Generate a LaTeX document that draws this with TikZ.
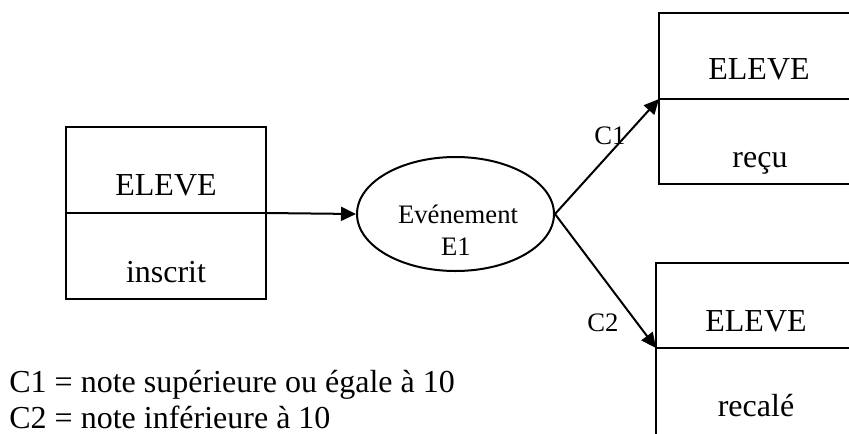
\documentclass[tikz,border=0pt]{standalone}
\usepackage{fontspec}
\setmainfont{Liberation Serif}
\usetikzlibrary{arrows.meta,shapes.geometric}
\tikzset{
  boxpart/.style={draw, rectangle, line width=1pt, minimum width=100pt, inner sep=0pt, outer sep=0pt},
  bigtxt/.style={anchor=base, inner sep=0pt, font=\fontsize{16}{18}\selectfont},
  smalltxt/.style={anchor=base, inner sep=0pt, font=\fontsize{13.33}{15}\selectfont},
  legend/.style={anchor=base west, inner sep=0pt, font=\fontsize{16}{18}\selectfont},
  flow/.style={line width=1pt, -{Triangle[length=7.5pt,width=7pt]}}
}
\begin{document}
\begin{tikzpicture}[x=0.5pt,y=-0.5pt]
\useasboundingbox (0,0) rectangle (849,433);
\clip (0,0) rectangle (849,433);
% left box
\node[boxpart, minimum height=43pt] (b1top) at (166,170) {};
\node[boxpart, minimum height=43pt] (b1bot) at (166,256) {};
\node[bigtxt] (t1a) at (166,195) {ELEVE};
\node[bigtxt] (t1b) at (166,282) {inscrit};
% top right box
\node[boxpart, minimum height=43pt] (b2top) at (759,56) {};
\node[boxpart, minimum height=42.5pt] (b2bot) at (759,141.5) {};
\node[bigtxt] (t2a) at (759,80) {ELEVE};
\node[bigtxt] (t2b) at (760,167) {reçu};
% bottom right box
\node[boxpart, minimum height=42.5pt] (b3top) at (756,305.5) {};
\node[boxpart, minimum height=44pt] (b3bot) at (756,392) {};
\node[bigtxt] (t3a) at (756,331) {ELEVE};
\node[bigtxt] (t3b) at (756,416) {recalé};
% event
\node[draw, ellipse, line width=1pt, minimum width=98.5pt, minimum height=57pt, inner sep=0pt] (ev) at (455.5,214) {};
\node[smalltxt] (ev1) at (458,223) {Evénement};
\node[smalltxt] (ev2) at (456,255) {E1};
% connectors
\draw[flow] (b1top.south east) -- (ev.west);
\draw[flow] (ev.east) -- (b2top.south west);
\draw[flow] (ev.east) -- (b3top.south west);
\node[smalltxt] (c1) at (610,144) {C1};
\node[smalltxt] (c2) at (603,331) {C2};
% legend
\node[legend] (l1) at (9,392) {C1 = note supérieure ou égale à 10};
\node[legend] (l2) at (9,428) {C2 = note inférieure à 10};
\end{tikzpicture}
\end{document}
